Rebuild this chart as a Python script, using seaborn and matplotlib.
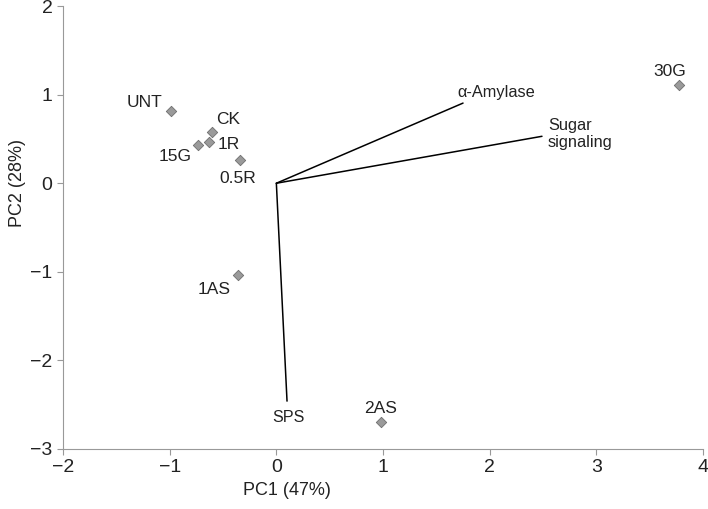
import pandas as pd
import seaborn as sns
import matplotlib.pyplot as plt

# sample scores
samples = ["UNT", "CK", "1R", "15G", "0.5R", "1AS", "2AS", "30G"]
pc1 = [-0.99, -0.60, -0.63, -0.73, -0.34, -0.36, 0.98, 3.77]
pc2 = [0.815, 0.58, 0.465, 0.43, 0.26, -1.04, -2.70, 1.11]
# label offsets (points)
label_dx = [-19, 11, 14, -17, -2, -17, 0, -6]
label_dy = [6, 9, -2, -8, -13, -10, 10, 10]

# loading vectors
loadings = ["α-Amylase", "Sugar\nsignaling", "SPS"]
load_x = [1.75, 2.49, 0.10]
load_y = [0.905, 0.53, -2.46]

df = pd.DataFrame({"sample": samples, "PC1": pc1, "PC2": pc2})

sns.set_theme(style="ticks")
plt.rcParams["font.family"] = ["Liberation Sans", "DejaVu Sans"]

fig = plt.figure(figsize=(7.08, 5.09), dpi=100)
ax = fig.add_axes([0.089, 0.118, 0.904, 0.870])

for name, lx, ly in zip(loadings, load_x, load_y):
    ax.plot([0, lx], [0, ly], color="black", lw=1.1, zorder=2)

sns.scatterplot(data=df, x="PC1", y="PC2", marker="D", s=28, color="#9a9a9a",
                edgecolor="#6e6e6e", linewidth=0.6, ax=ax, zorder=3)

for name, x, y, dx, dy in zip(samples, pc1, pc2, label_dx, label_dy):
    ax.annotate(name, (x, y), xytext=(dx, dy), textcoords="offset points",
                ha="center", va="center", fontsize=12.5, color="#222222")

ax.text(1.70, 1.03, "α-Amylase", fontsize=11.8, ha="left", va="center", color="#222222")
ax.text(2.545, 0.555, "Sugar\nsignaling", fontsize=11.8, ha="left", va="center",
        color="#222222", linespacing=1.15)
ax.text(0.11, -2.64, "SPS", fontsize=11.6, ha="center", va="center", color="#222222")

ax.set_xlim(-2, 4)
ax.set_ylim(-3, 2)
ax.set_xticks(range(-2, 5))
ax.set_yticks(range(-3, 3))
ax.set_xlabel("PC1 (47%)", fontsize=13, color="#222222")
ax.set_ylabel("PC2 (28%)", fontsize=13, color="#222222")
ax.xaxis.set_label_coords(0.35, -0.075)
ax.yaxis.set_label_coords(-0.058, 0.6)
ax.tick_params(labelsize=14, colors="#999999", labelcolor="#222222", length=4, width=0.8)
for s in ["left", "bottom"]:
    ax.spines[s].set_color("#999999")
    ax.spines[s].set_linewidth(0.8)
sns.despine(ax=ax)

fig.savefig("out.png", dpi=100)
